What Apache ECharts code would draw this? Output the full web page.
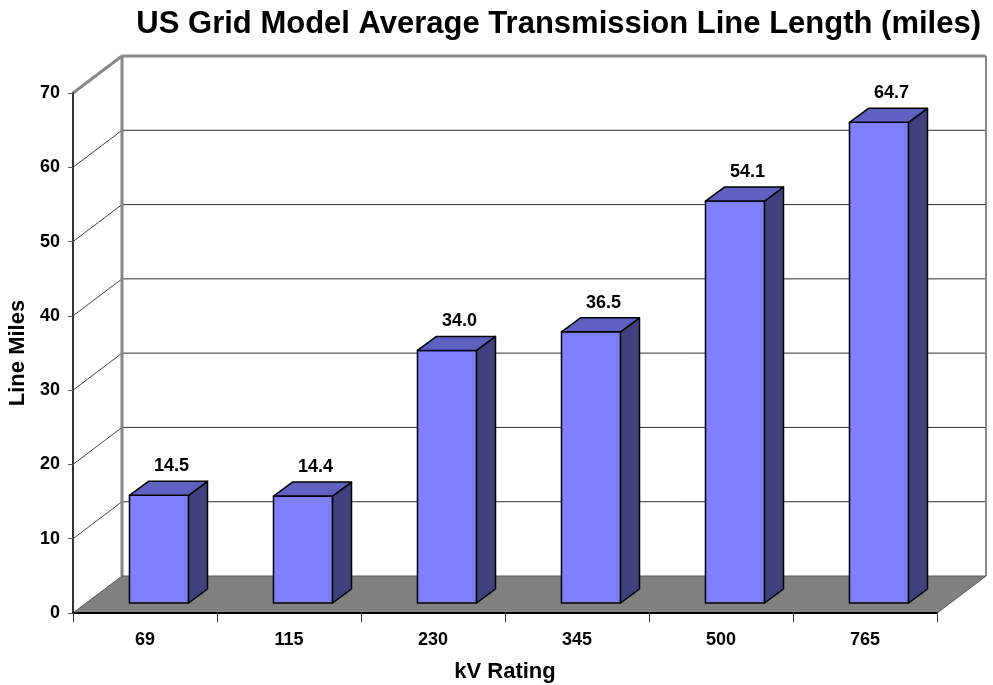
<!DOCTYPE html>
<html>
<head>
<meta charset="utf-8">
<script src="https://cdn.jsdelivr.net/npm/echarts@6/dist/echarts.min.js"></script>
<style>
html,body{margin:0;padding:0;background:#fff;}
#chart{width:993px;height:685px;}
</style>
</head>
<body>
<div id="chart"></div>
<script>
// 数据
var categories = ['69', '115', '230', '345', '500', '765'];
var lineMiles = [14.5, 14.4, 34.0, 36.5, 54.1, 64.7];
var yTicks = [0, 10, 20, 30, 40, 50, 60, 70];

// 3D 偏移 (背墙深度、柱子位置)
var DEPTH = [49, -37];
var BAR_SHIFT = [14, -10];
var BAR_DEPTH = [19, -14];
var FONT = 'Arial, "Liberation Sans", sans-serif';

var myChart = echarts.init(document.getElementById('chart'));

// 背墙、地板、网格线
function renderWalls(params, api) {
    var cs = params.coordSys;
    var x0 = cs.x, x1 = cs.x + cs.width;
    var yBottom = api.coord([0, 0])[1];
    var yTop = api.coord([0, yTicks[yTicks.length - 1]])[1];
    var dx = DEPTH[0], dy = DEPTH[1];
    var children = [];
    // 背墙
    children.push({
        type: 'rect',
        shape: {x: x0 + dx, y: yTop + dy, width: x1 - x0, height: yBottom - yTop},
        style: {fill: '#fff'}
    });
    for (var i = 1; i < yTicks.length; i++) {
        var y = api.coord([0, yTicks[i]])[1];
        var last = i === yTicks.length - 1;
        children.push({
            type: 'line',
            shape: {x1: x0 + dx, y1: y + dy, x2: x1 + dx, y2: y + dy},
            style: {stroke: last ? '#888' : '#333', lineWidth: last ? 3 : 1}
        });
        children.push({
            type: 'line',
            shape: {x1: x0, y1: y, x2: x0 + dx, y2: y + dy},
            style: {stroke: last ? '#888' : '#444', lineWidth: last ? 3 : 1}
        });
    }
    // 背墙左右边
    children.push({
        type: 'line',
        shape: {x1: x0 + dx, y1: yTop + dy, x2: x0 + dx, y2: yBottom + dy},
        style: {stroke: '#888', lineWidth: 3}
    });
    children.push({
        type: 'line',
        shape: {x1: x1 + dx, y1: yTop + dy, x2: x1 + dx, y2: yBottom + dy},
        style: {stroke: '#888', lineWidth: 2}
    });
    // 地板
    children.push({
        type: 'polygon',
        shape: {points: [[x0, yBottom], [x1, yBottom], [x1 + dx, yBottom + dy], [x0 + dx, yBottom + dy]]},
        style: {fill: '#808080', stroke: '#555', lineWidth: 1}
    });
    return {type: 'group', children: children};
}

// 3D 柱子
function renderBar(params, api) {
    var idx = api.value(0);
    var val = api.value(1);
    var base = api.coord([idx, 0]);
    var top = api.coord([idx, val]);
    var w = api.size([1, 0])[0] * 0.41;
    var cx = base[0] + BAR_SHIFT[0];
    var xl = cx - w / 2, xr = cx + w / 2;
    var yb = base[1] + BAR_SHIFT[1];
    var yt = top[1] + BAR_SHIFT[1];
    var ddx = BAR_DEPTH[0], ddy = BAR_DEPTH[1];
    var border = {stroke: '#000', lineWidth: 1.5, lineJoin: 'round'};
    return {
        type: 'group',
        children: [
            {
                type: 'polygon',
                shape: {points: [[xl, yt], [xr, yt], [xr, yb], [xl, yb]]},
                style: Object.assign({fill: '#8080FF'}, border)
            },
            {
                type: 'polygon',
                shape: {points: [[xr, yt], [xr + ddx, yt + ddy], [xr + ddx, yb + ddy], [xr, yb]]},
                style: Object.assign({fill: '#40407F'}, border)
            },
            {
                type: 'polygon',
                shape: {points: [[xl, yt], [xr, yt], [xr + ddx, yt + ddy], [xl + ddx, yt + ddy]]},
                style: Object.assign({fill: '#6060C0'}, border)
            },
            {
                type: 'text',
                x: cx + ddx / 2 + 3,
                y: yt + ddy - 6,
                style: {
                    text: val.toFixed(1),
                    fill: '#000',
                    font: 'bold 18px ' + FONT,
                    align: 'center',
                    verticalAlign: 'bottom'
                }
            }
        ]
    };
}

var barData = lineMiles.map(function (v, i) { return [i, v]; });

option = {
    backgroundColor: '#FFFFFF',
    animation: false,
    title: {
        text: 'US Grid Model Average Transmission Line Length (miles)',
        right: 7,
        top: 4,
        textStyle: {
            fontFamily: FONT,
            fontSize: 31,
            fontWeight: 'bold',
            color: '#000'
        }
    },
    grid: {
        left: 73,
        right: 56,
        top: 93,
        bottom: 72,
        outerBoundsMode: 'none',
        containLabel: false
    },
    xAxis: {
        type: 'category',
        data: categories,
        name: 'kV Rating',
        nameLocation: 'middle',
        nameGap: 48,
        nameTextStyle: {
            fontFamily: FONT,
            fontSize: 22,
            fontWeight: 'bold',
            color: '#000'
        },
        axisLine: {lineStyle: {color: '#000', width: 2}},
        axisTick: {show: true, length: 9, lineStyle: {color: '#333', width: 1}},
        axisLabel: {
            margin: 18,
            color: '#000',
            fontFamily: FONT,
            fontSize: 18,
            fontWeight: 'bold'
        },
        splitLine: {show: false}
    },
    yAxis: {
        type: 'value',
        min: 0,
        max: 70,
        interval: 10,
        name: 'Line Miles',
        nameLocation: 'middle',
        nameGap: 41,
        nameTextStyle: {
            fontFamily: FONT,
            fontSize: 22,
            fontWeight: 'bold',
            color: '#000'
        },
        axisLine: {show: true, lineStyle: {color: '#333', width: 2}},
        axisTick: {show: true, length: 5, lineStyle: {color: '#555', width: 1}},
        axisLabel: {
            margin: 13,
            color: '#000',
            fontFamily: FONT,
            fontSize: 18,
            fontWeight: 'bold'
        },
        splitLine: {show: false}
    },
    series: [
        {
            name: 'walls',
            type: 'custom',
            coordinateSystem: 'cartesian2d',
            renderItem: renderWalls,
            data: [[0, 0]],
            clip: false,
            silent: true,
            z: -1
        },
        {
            name: 'Line Miles',
            type: 'custom',
            coordinateSystem: 'cartesian2d',
            renderItem: renderBar,
            data: barData,
            encode: {x: 0, y: 1},
            clip: false,
            z: 3
        }
    ]
};
myChart.setOption(option);
</script>
</body>
</html>
